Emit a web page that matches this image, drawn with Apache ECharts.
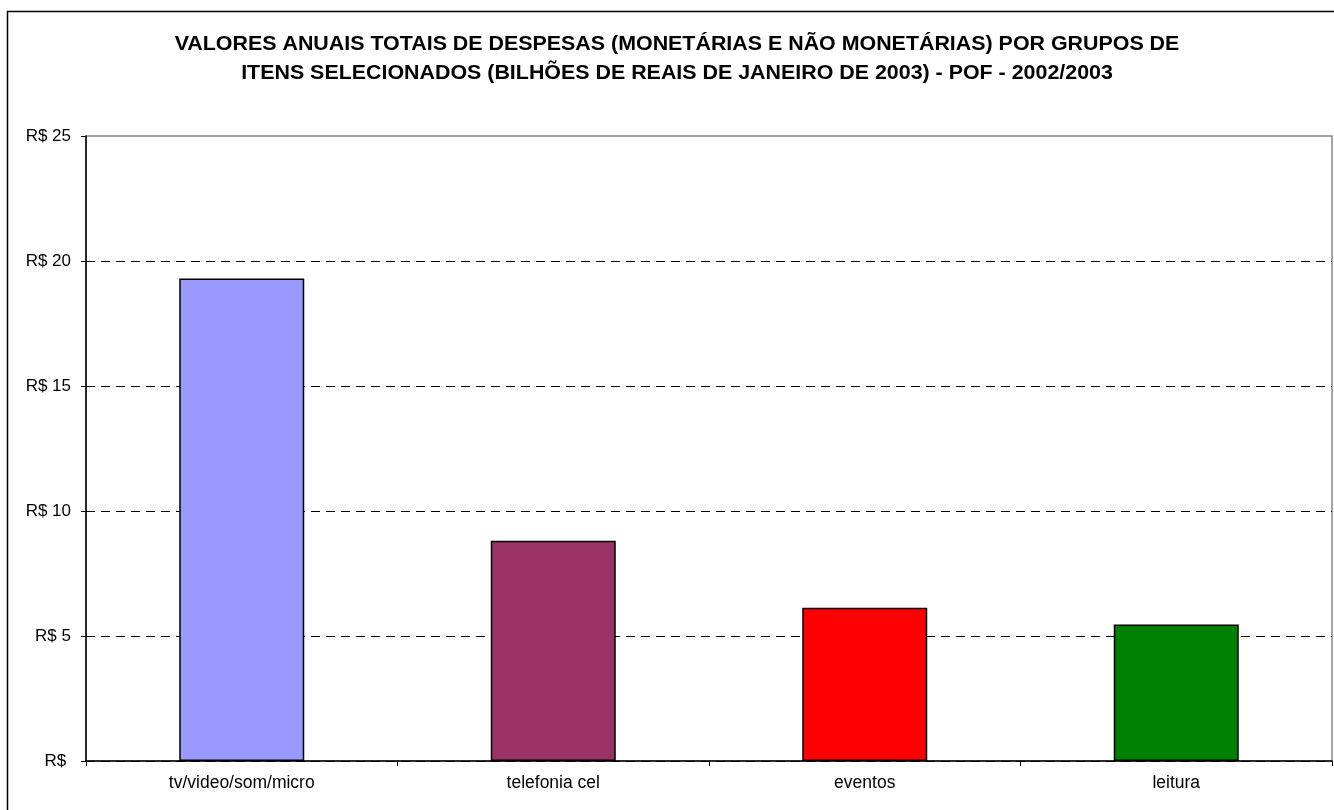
<!DOCTYPE html>
<html>
<head>
<meta charset="utf-8">
<script src="https://cdn.jsdelivr.net/npm/echarts@6/dist/echarts.min.js"></script>
<style>
  html, body { margin: 0; padding: 0; background: #fff; }
  #chart { width: 1334px; height: 810px; }
</style>
</head>
<body>
<div id="chart"></div>
<script>
var categories = ["tv/video/som/micro", "telefonia cel", "eventos", "leitura"];
var values = [19.3, 8.81, 6.13, 5.46];
var barColors = ["#9999FF", "#993366", "#FF0000", "#008000"];
var yTicks = [0, 5, 10, 15, 20, 25];
var titleText = "VALORES ANUAIS TOTAIS DE DESPESAS (MONETÁRIAS E NÃO MONETÁRIAS) POR GRUPOS DE\nITENS SELECIONADOS (BILHÕES DE REAIS DE JANEIRO DE 2003) - POF - 2002/2003";

var chart = echarts.init(document.getElementById("chart"));
var font = "Liberation Sans, Arial, sans-serif";

// gridline at 25 is hidden so the grey plot border shows instead
var splitColors = yTicks.map(function (v) {
    return v === 25 ? "transparent" : "#000";
});

var option = {
    animation: false,
    backgroundColor: "#fff",
    textStyle: { fontFamily: font },
    graphic: [{
        type: "rect",
        z: -10,
        shape: { x: 7.5, y: 11.5, width: 1400, height: 900 },
        style: { fill: "none", stroke: "#000", lineWidth: 1.5 }
    }, {
        // title drawn as text, slightly widened like the original
        type: "text",
        x: 677,
        y: 30.5,
        scaleX: 1.07,
        style: {
            text: titleText,
            font: "bold 20px " + font,
            fill: "#000",
            textAlign: "center",
            textVerticalAlign: "top",
            lineHeight: 28.6
        }
    }],
    grid: {
        left: 86,
        top: 136,
        right: 2,
        bottom: 49,
        show: true,
        borderColor: "#888",
        borderWidth: 1.5,
        containLabel: false
    },
    xAxis: {
        type: "category",
        data: categories,
        axisLine: { lineStyle: { color: "#000", width: 1.5 } },
        axisTick: { show: true, length: 5, inside: false, lineStyle: { color: "#000" } },
        axisLabel: { color: "#000", fontSize: 17.5, margin: 13, fontFamily: font }
    },
    yAxis: {
        type: "value",
        min: 0,
        max: 25,
        interval: 5,
        axisLine: { show: true, lineStyle: { color: "#000", width: 1.5 } },
        axisTick: { show: true, length: 5, lineStyle: { color: "#000" } },
        axisLabel: {
            color: "#000",
            fontSize: 17,
            margin: 15,
            fontFamily: font,
            formatter: function (v) { return v === 0 ? "R$ " : "R$ " + v; }
        },
        splitLine: {
            show: true,
            lineStyle: { color: splitColors, type: [9, 6], width: 1 }
        }
    },
    series: [{
        type: "bar",
        barWidth: 125,
        data: values.map(function (v, i) {
            return {
                value: v,
                itemStyle: { color: barColors[i], borderColor: "#000", borderWidth: 1.5 }
            };
        })
    }]
};

chart.setOption(option);
</script>
</body>
</html>
